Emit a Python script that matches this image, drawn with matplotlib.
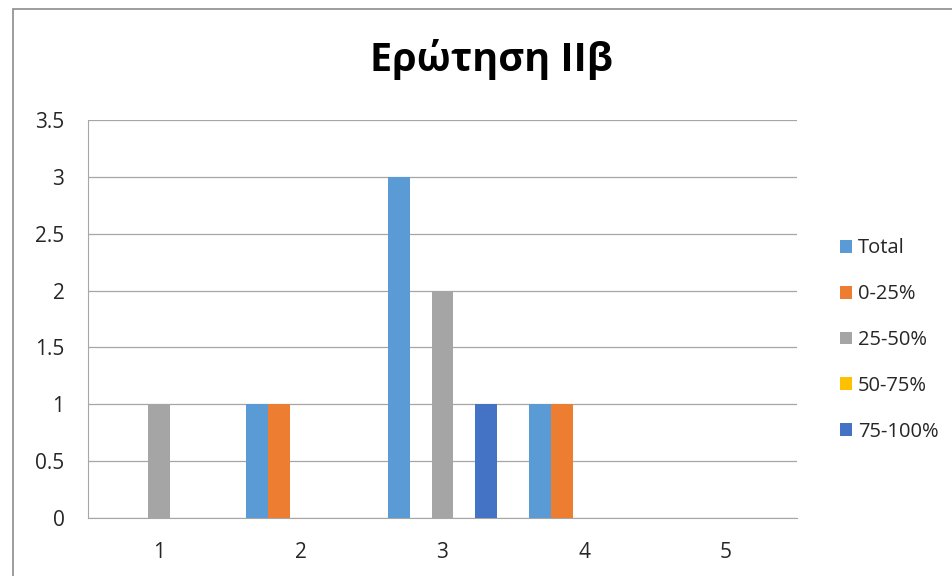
import matplotlib
matplotlib.use("Agg")
import matplotlib.pyplot as plt
import numpy as np
from matplotlib.patches import Rectangle

categories = ["1", "2", "3", "4", "5"]
series_names = ["Total", "0-25%", "25-50%", "50-75%", "75-100%"]
total = [0, 1, 3, 1, 0]
p0_25 = [0, 1, 0, 1, 0]
p25_50 = [1, 0, 2, 0, 0]
p50_75 = [0, 0, 0, 0, 0]
p75_100 = [0, 0, 1, 0, 0]
colors = ["#5B9BD5", "#ED7D31", "#A5A5A5", "#FFC000", "#4472C4"]
yticks = [0, 0.5, 1, 1.5, 2, 2.5, 3, 3.5]

plt.rcParams['font.family'] = ['Open Sans', 'DejaVu Sans']

fig = plt.figure(figsize=(9.53, 5.76), dpi=100)
ax = fig.add_axes([88/953, 1-518/576, (797-88)/953, (518-120)/576])

data = [total, p0_25, p25_50, p50_75, p75_100]
x = np.arange(len(categories))
w = 0.155
for i, (vals, name, c) in enumerate(zip(data, series_names, colors)):
    ax.bar(x + (i-2)*w, vals, width=w, color=c, label=name, zorder=3)

ax.set_xlim(-0.5, 4.5)
ax.set_ylim(0, 3.5)
ax.set_yticks(yticks)
ax.set_yticklabels([f"{t:g}" for t in yticks])
ax.set_xticks(x)
ax.set_xticklabels(categories)
ax.grid(axis='y', color='#A6A6A6', linewidth=0.9, zorder=0)
for s in ['top', 'right']:
    ax.spines[s].set_visible(False)
ax.spines['left'].set_color('#A6A6A6')
ax.spines['bottom'].set_color('#A6A6A6')
ax.tick_params(axis='both', length=0, labelsize=15, colors='#262626')
ax.tick_params(axis='y', pad=17)
ax.tick_params(axis='x', pad=17)

fig.text(491/953, 1-60/576, "Ερώτηση ΙΙβ", ha='center', va='center', fontsize=28.5, fontweight='bold', color='black')

leg = ax.legend(loc='center left', bbox_to_anchor=(822/953, 1-340/576), bbox_transform=fig.transFigure,
                frameon=False, fontsize=14.5, handlelength=0.6, handleheight=0.6,
                labelspacing=1.28, handletextpad=0.3)
for t in leg.get_texts():
    t.set_color('#262626')

# chart border
fig.patches.append(Rectangle((13/953, -0.1), 1.0, 1-9/576+0.1, transform=fig.transFigure,
                             fill=False, edgecolor='#8C8C8C', linewidth=1.2))

fig.savefig("out.png", dpi=100)
